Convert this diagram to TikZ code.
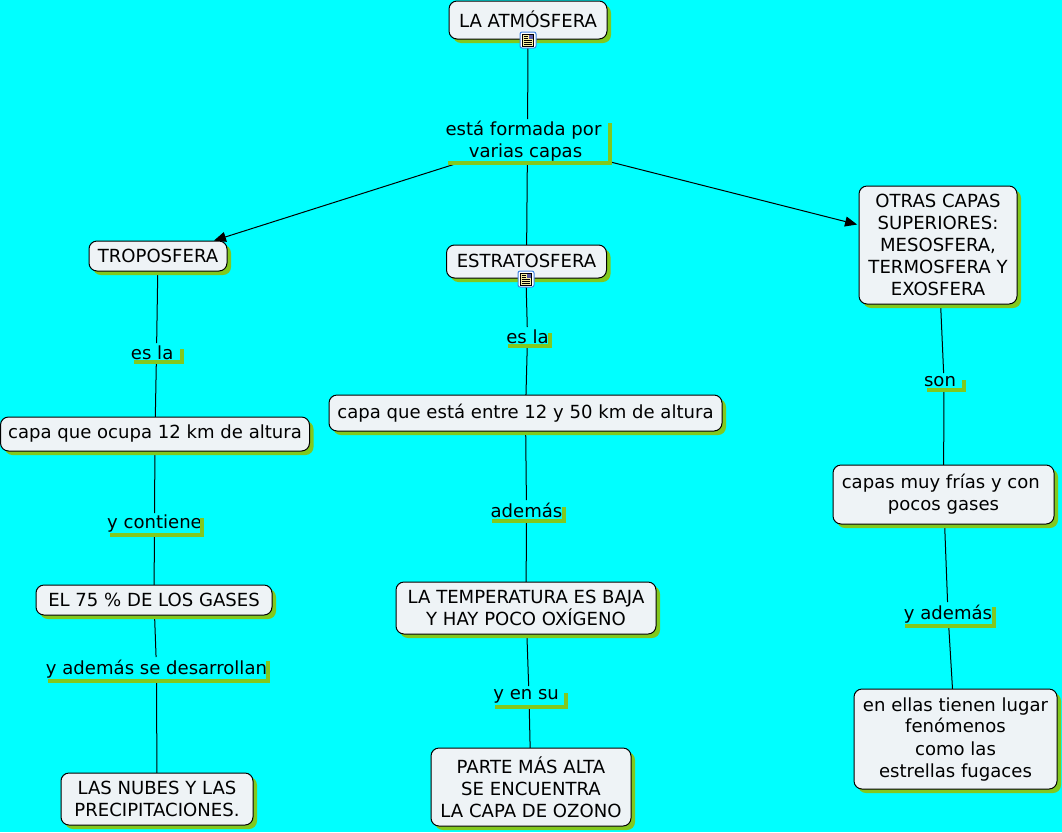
\documentclass[tikz,border=0pt]{standalone}
\usepackage{fontspec}
\setmainfont{DejaVu Sans}
\usetikzlibrary{arrows.meta,shadows,backgrounds}
\definecolor{mapcyan}{HTML}{00FFFF}
\definecolor{boxfill}{HTML}{EEF3F6}
\definecolor{barlime}{HTML}{82C81E}
\definecolor{iconblue}{HTML}{3C82E0}
\definecolor{iconpaper}{HTML}{F6EFA0}
% one reference pixel is 0.75pt
\tikzset{
  wh/.style 2 args={minimum width=#1*0.75pt,minimum height=#2*0.75pt},
  concept/.style={draw=black,line width=0.75pt,fill=boxfill,rounded corners=6pt,align=center,inner sep=0pt,outer sep=0pt,
    general shadow={shadow xshift=3pt,shadow yshift=-3pt,fill=barlime,opacity=1}},
  phrase/.style={align=center,inner sep=0pt,outer sep=0pt},
  bar/.style={draw=barlime,line width=3pt},
  link/.style={line width=0.75pt,black},
  arrow/.style={link,-{Triangle[length=9pt,width=7.5pt]}},
  icon/.style={draw=iconblue,line width=0.75pt,fill=white,rounded corners=1.5pt,wh={16}{16},inner sep=0pt,outer sep=0pt},
}
\newcommand{\docicon}[1]{%
  \draw[black,line width=0.4pt,fill=iconpaper] ([xshift=-4pt,yshift=-1.5pt]#1.north) rectangle ([xshift=4pt,yshift=1.5pt]#1.south);
  \fill[gray!70!blue] ([xshift=0.6pt,yshift=-2pt]#1.north) rectangle ([xshift=3.5pt,yshift=-5pt]#1.north);
  \foreach \dy in {-3,-4.5}
    \draw[black,line width=0.4pt] ([xshift=-3.2pt,yshift=\dy pt]#1.north) -- ([xshift=-0.2pt,yshift=\dy pt]#1.north);
  \foreach \dy in {-6.2,-7.7,-9.2}
    \draw[black,line width=0.4pt] ([xshift=-3.2pt,yshift=\dy pt]#1.north) -- ([xshift=3.2pt,yshift=\dy pt]#1.north);
}
\begin{document}
\begin{tikzpicture}[x=0.75pt,y=-0.75pt,font={\fontsize{13.55}{16.5}\selectfont}]
\useasboundingbox (0,0) rectangle (1062,832);
% concepts, left column
\node[concept,wh={138}{30}] (tropo) at (158,256) {TROPOSFERA};
\node[concept,wh={309}{34}] (ocupa) at (155,434) {capa que ocupa 12 km de altura};
\node[concept,wh={236}{30}] (gases) at (154,600) {EL 75 \% DE LOS GASES};
\node[concept,wh={192}{52}] (nubes) at (157,799) {LAS NUBES Y LAS\\PRECIPITACIONES.};
% concepts, middle column
\node[concept,wh={158}{38}] (atmos) at (528,20) {\raisebox{0.75pt}{LA ATMÓSFERA}};
\node[concept,wh={160}{33}] (estrato) at (526.5,261.5) {\raisebox{1.5pt}{ESTRATOSFERA}};
\node[concept,wh={393}{36}] (entre) at (525.5,413) {capa que está entre 12 y 50 km de altura};
\node[concept,wh={260}{52}] (temp) at (526,608) {LA TEMPERATURA ES BAJA\\Y HAY POCO OXÍGENO};
\node[concept,wh={200}{78}] (parte) at (531,787) {PARTE MÁS ALTA\\SE ENCUENTRA\\LA CAPA DE OZONO};
% concepts, right column
\node[concept,wh={158}{118}] (otras) at (938,245) {OTRAS CAPAS\\SUPERIORES:\\MESOSFERA,\\TERMOSFERA Y\\EXOSFERA};
\node[concept,wh={221}{59}] (frias) at (943.5,494.5) {capas muy frías y con\kern4pt\\pocos gases};
\node[concept,wh={203}{100}] (ellas) at (955.5,739) {en ellas tienen lugar\\fenómenos\\como las\\estrellas fugaces};
% linking phrases
\node[phrase,wh={165}{44}] (formada) at (527.5,141) {está formada por\kern6pt\\varias capas\kern3pt};
\node[phrase,wh={51}{19}] (esla) at (156.5,352.5) {es la\kern6.5pt};
\node[phrase,wh={95}{22}] (contiene) at (154.5,524) {y contiene};
\node[phrase,wh={223}{24}] (desarrollan) at (156.5,669) {y además se desarrollan};
\node[phrase,wh={45}{19}] (eslamid) at (527.5,336.5) {es la};
\node[phrase,wh={75}{21}] (ademas) at (526.5,510.5) {además};
\node[phrase,wh={74}{21}] (ensu) at (529,696.5) {y en su~};
\node[phrase,wh={40}{17}] (son) at (944,381.5) {son\kern6pt};
\node[phrase,wh={92}{24}] (yademas) at (948,614) {y además};
% icons on the two concepts that carry one
\node[icon] (iconatmos) at (528,40) {};
\docicon{iconatmos}
\node[icon] (iconestrato) at (526,279) {};
\docicon{iconestrato}
% L shaped bars under the phrases
\foreach \n/\drop in {formada/3,esla/4.5,contiene/3.75,desarrollan/3,eslamid/4.5,ademas/5,ensu/5,son/5,yademas/3.75}
  \draw[bar] ([xshift=2.25pt]\n.south west) -| ([yshift=-\drop pt]\n.north east);
\begin{pgfonlayer}{background}
\fill[mapcyan] (0,0) rectangle (1062,832);
\draw[link] (iconatmos) -- (formada);
\draw[arrow,shorten >=1pt] (formada) -- ([xshift=41pt]tropo.north);
\draw[link] (formada) -- (estrato);
\draw[arrow,shorten >=1.5pt] (formada) -- ([yshift=15pt]otras.west);
\draw[link] (tropo) -- (esla);
\draw[link] (esla) -- (ocupa);
\draw[link] (ocupa) -- (contiene);
\draw[link] (contiene) -- (gases);
\draw[link] (gases) -- (desarrollan);
\draw[link] (desarrollan) -- (nubes);
\draw[link] (iconestrato) -- (eslamid);
\draw[link] (eslamid) -- (entre);
\draw[link] (entre) -- (ademas);
\draw[link] (ademas) -- (temp);
\draw[link] (temp) -- (ensu);
\draw[link] (ensu) -- (parte);
\draw[link] (otras) -- (son);
\draw[link] (son) -- (frias);
\draw[link] (frias) -- (yademas);
\draw[link] (yademas) -- (ellas);
\end{pgfonlayer}
\end{tikzpicture}
\end{document}
